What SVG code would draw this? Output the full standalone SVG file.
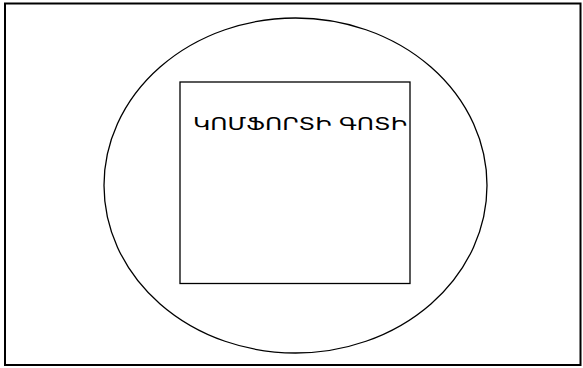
<svg xmlns="http://www.w3.org/2000/svg" width="583" height="368" viewBox="0 0 583 368">
<style>
.ln{fill:none;stroke:#000;}
.lb{font-family:"DejaVu Sans","Noto Sans",sans-serif;font-size:18px;fill:#000;}
</style>
<rect width="583" height="368" fill="#fff"/>
<g id="frame"><rect class="ln" x="5" y="3.5" width="575.5" height="361.5" stroke-width="2"/></g>
<g id="outer"><ellipse class="ln" cx="295.5" cy="185.5" rx="191.5" ry="167.5" stroke-width="1.3"/></g>
<g id="comfort-zone">
<rect class="ln" x="180" y="82" width="230" height="201.5" stroke-width="1.3"/>
<text class="lb" x="193" y="130" textLength="214" lengthAdjust="spacingAndGlyphs">ԿՈՄՖՈՐՏԻ ԳՈՏԻ</text>
</g>
<g id="connectors"/>
</svg>
